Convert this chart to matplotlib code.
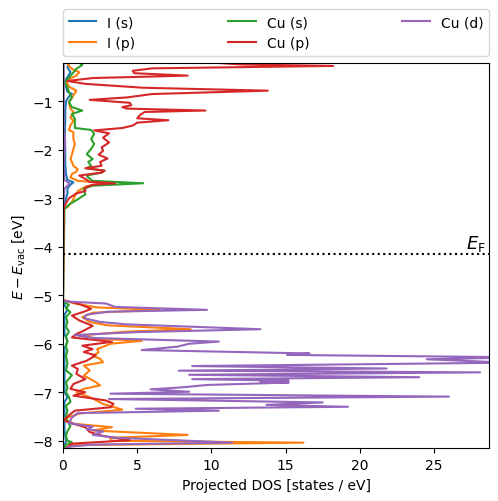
import numpy as np
import matplotlib.pyplot as plt

# Energies (eV, relative to vacuum) and projected DOS values
e_fermi = -4.15

# I (s)
e_i_s = [-0.20, -0.30, -0.40, -0.50, -0.60, -0.70, -0.80, -0.85, -0.90, -1.00,
         -1.20, -1.40, -1.70, -2.00, -2.30, -2.50, -2.62, -2.67, -2.72, -2.80,
         -2.90, -3.00, -3.10, -3.22, -5.10, -5.20, -5.30, -5.40, -5.60, -5.80,
         -5.95, -6.10, -6.40, -6.70, -7.00, -7.10, -7.20, -7.50, -7.80, -8.00,
         -8.16]
dos_i_s = [0.40, 0.30, 0.50, 0.30, 0.10, 0.20, 0.30, 0.60, 0.40, 0.20,
           0.15, 0.15, 0.12, 0.15, 0.15, 0.20, 0.30, 0.70, 0.50, 0.30,
           0.30, 0.20, 0.10, 0.02, 0.00, 0.10, 0.30, 0.10, 0.10, 0.10,
           0.30, 0.10, 0.10, 0.10, 0.10, 0.30, 0.10, 0.10, 0.10, 0.20,
           0.05]

# I (p)
e_i_p = [-0.20, -0.27, -0.33, -0.40, -0.47, -0.57, -0.70, -0.78, -0.88, -1.02,
         -1.15, -1.22, -1.33, -1.40, -1.50, -1.59, -1.64, -1.70, -1.78, -1.88,
         -1.98, -2.10, -2.19, -2.25, -2.33, -2.40, -2.45, -2.50, -2.57, -2.64,
         -2.69, -2.75, -2.85, -2.95, -3.08, -3.18, -3.22,
         -5.10, -5.17, -5.25, -5.30, -5.36, -5.45, -5.55, -5.62, -5.70, -5.75,
         -5.83, -5.90, -5.94, -6.00, -6.11, -6.18, -6.25, -6.31, -6.38, -6.45,
         -6.55, -6.66, -6.72, -6.79, -6.86, -6.93, -7.00, -7.10, -7.24, -7.36,
         -7.44, -7.55, -7.65, -7.72, -7.79, -7.88, -7.94, -8.00, -8.04, -8.09,
         -8.16]
dos_i_p = [0.30, 0.40, 0.60, 1.10, 0.90, 0.20, 0.40, 0.90, 0.70, 0.40,
           0.50, 0.70, 0.50, 0.70, 0.50, 0.40, 0.70, 0.70, 0.70, 0.80,
           0.70, 0.60, 0.50, 0.60, 0.70, 1.00, 0.90, 0.60, 0.50, 1.00,
           3.00, 1.60, 1.00, 0.80, 0.60, 0.30, 0.05,
           0.00, 0.80, 2.30, 6.50, 2.00, 1.30, 1.80, 3.00, 8.60, 4.30,
           1.10, 2.50, 5.30, 3.20, 2.30, 2.40, 2.00, 2.50, 2.70, 1.40,
           1.80, 1.40, 1.80, 2.20, 2.50, 1.40, 0.90, 1.80, 2.70, 4.00,
           1.10, 0.05, 0.70, 3.30, 2.00, 8.40, 3.20, 3.20, 16.20, 0.50,
           0.10]

# Cu (s)
e_cu_s = [-0.20, -0.25, -0.33, -0.44, -0.51, -0.61, -0.71, -0.81, -0.92, -1.02,
          -1.12, -1.19, -1.26, -1.36, -1.47, -1.55, -1.59, -1.67, -1.78, -1.88,
          -1.98, -2.09, -2.19, -2.25, -2.33, -2.38, -2.43, -2.47, -2.53, -2.57,
          -2.64, -2.69, -2.74, -2.80, -2.92, -3.02, -3.12, -3.22,
          -5.12, -5.20, -5.27, -5.35, -5.45, -5.55, -5.65, -5.75, -5.85, -5.95,
          -6.05, -6.15, -6.25, -6.40, -6.55, -6.65, -6.72, -6.80, -6.90, -7.00,
          -7.10, -7.20, -7.28, -7.38, -7.50, -7.60, -7.70, -7.80, -7.90, -8.00,
          -8.03, -8.08, -8.16]
dos_cu_s = [1.10, 1.30, 0.90, 0.60, 0.40, 0.10, 0.30, 0.40, 0.60, 0.40,
            0.60, 1.30, 0.60, 0.80, 0.80, 0.80, 1.90, 2.10, 1.90, 2.10,
            1.90, 1.60, 2.00, 1.70, 1.90, 1.60, 2.80, 2.60, 1.60, 1.70,
            2.00, 5.40, 2.00, 1.40, 1.50, 1.00, 0.45, 0.10,
            0.00, 0.40, 0.20, 0.50, 0.20, 0.30, 0.20, 0.40, 0.20, 0.30,
            0.20, 0.30, 0.20, 0.30, 0.20, 0.60, 0.40, 0.20, 0.30, 0.20,
            0.40, 0.50, 0.20, 0.30, 0.20, 0.30, 0.50, 0.30, 0.20, 0.30,
            0.60, 0.20, 0.10]

# Cu (p)
e_cu_p = [-0.20, -0.24, -0.27, -0.32, -0.37, -0.42, -0.47, -0.52, -0.58, -0.64,
          -0.72, -0.78, -0.85, -0.92, -0.97, -1.03, -1.08, -1.12, -1.15, -1.19,
          -1.22, -1.28, -1.35, -1.39, -1.44, -1.50, -1.55, -1.60, -1.66, -1.75,
          -1.85, -1.95, -2.02, -2.10, -2.18, -2.25, -2.33, -2.38, -2.43, -2.47,
          -2.53, -2.60, -2.66, -2.69, -2.72, -2.78, -2.85, -2.90, -3.00, -3.10,
          -3.22,
          -5.10, -5.18, -5.28, -5.34, -5.42, -5.52, -5.63, -5.73, -5.80, -5.87,
          -5.96, -6.04, -6.11, -6.17, -6.24, -6.35, -6.45, -6.52, -6.62, -6.73,
          -6.83, -6.93, -7.00, -7.07, -7.17, -7.24, -7.31, -7.38, -7.45, -7.58,
          -7.65, -7.72, -7.82, -7.90, -7.99, -8.06, -8.16]
dos_cu_p = [10.0, 12.0, 18.2, 6.0, 4.7, 4.8, 8.4, 2.0, 0.3, 1.5,
            5.4, 13.8, 6.0, 4.3, 1.8, 4.5, 4.6, 4.0, 4.3, 9.6,
            5.5, 5.2, 5.0, 7.1, 5.0, 4.7, 4.0, 2.1, 3.1, 2.7,
            3.1, 2.6, 2.7, 2.4, 3.0, 2.5, 2.6, 1.5, 2.8, 2.6,
            1.1, 1.5, 1.8, 3.5, 2.0, 1.5, 1.5, 0.9, 0.4, 0.2,
            0.05,
            0.00, 1.10, 1.90, 1.40, 0.60, 1.10, 2.00, 1.40, 0.90, 0.60,
            3.30, 1.30, 2.00, 1.40, 2.20, 1.60, 0.60, 1.00, 0.90, 1.50,
            0.70, 0.50, 1.50, 0.70, 2.90, 3.40, 3.20, 0.80, 0.50, 0.05,
            0.70, 1.50, 1.80, 2.70, 4.50, 0.60, 0.20]

# Cu (d)
e_cu_d = [-0.20, -0.50, -1.00, -1.60, -1.80, -2.30, -2.62, -2.70, -2.80, -3.00,
          -3.22,
          -5.10, -5.13, -5.17, -5.24, -5.30, -5.34, -5.40, -5.47, -5.55, -5.60,
          -5.70, -5.76, -5.82, -5.88, -5.955, -6.00, -6.06, -6.13, -6.20, -6.23,
          -6.28, -6.32, -6.39, -6.46, -6.51, -6.555, -6.59, -6.64, -6.69, -6.73,
          -6.76, -6.785, -6.80, -6.85, -6.90, -6.94, -6.99, -7.03, -7.09, -7.14,
          -7.21, -7.26, -7.30, -7.34, -7.38, -7.43, -7.52, -7.64, -7.71, -7.76,
          -7.81, -7.88, -7.94, -7.99, -8.04, -8.08, -8.12, -8.16]
dos_cu_d = [0.05, 0.05, 0.05, 0.05, 0.15, 0.05, 0.10, 0.45, 0.10, 0.05,
            0.00,
            0.00, 0.30, 2.90, 3.50, 9.70, 3.00, 1.60, 1.40, 2.50, 4.30,
            13.3, 5.00, 0.80, 2.00, 10.5, 8.50, 7.70, 5.30, 16.6, 15.1,
            31.0, 24.5, 30.0, 8.70, 21.8, 7.80, 28.1, 8.50, 24.0, 8.70,
            15.2, 13.3, 15.2, 9.70, 8.00, 5.90, 8.50, 3.20, 26.0, 3.10,
            17.5, 13.7, 19.2, 4.90, 10.5, 1.00, 0.60, 0.40, 2.00, 1.60,
            2.70, 2.00, 3.60, 7.70, 11.4, 2.00, 0.50, 0.20]

series = [
    ('I (s)', e_i_s, dos_i_s, 'tab:blue'),
    ('I (p)', e_i_p, dos_i_p, 'tab:orange'),
    ('Cu (s)', e_cu_s, dos_cu_s, 'tab:green'),
    ('Cu (p)', e_cu_p, dos_cu_p, 'tab:red'),
    ('Cu (d)', e_cu_d, dos_cu_d, 'tab:purple'),
]

fig = plt.figure(figsize=(4.98, 5.02), dpi=100)
ax = fig.add_axes([0.1265, 0.1046, 0.8555, 0.7674])

for label, e, dos, color in series:
    ax.plot(dos, e, color=color, label=label, linewidth=1.5)

ax.axhline(e_fermi, color='k', linestyle=':', linewidth=1.5)
ax.text(28.5, e_fermi + 0.03, r'$E_\mathrm{F}$', ha='right', va='bottom',
        fontsize=13)

ax.set_xlim(0, 28.7)
ax.set_ylim(-8.16, -0.215)
ax.set_xlabel('Projected DOS [states / eV]')
ax.set_ylabel(r'$E - E_\mathrm{vac}$ [eV]')
ax.legend(bbox_to_anchor=(0, 1.02, 1, 0.2), loc='lower left',
          mode='expand', ncol=3, borderaxespad=0)

fig.savefig('out.png', dpi=100)
